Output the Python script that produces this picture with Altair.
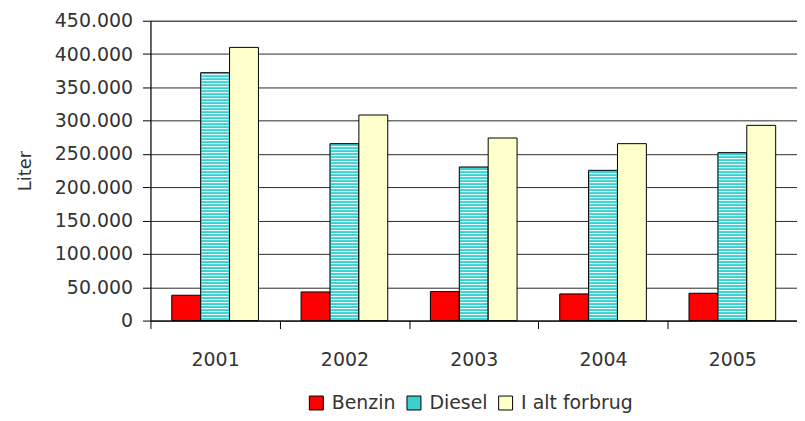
import altair as alt
import pandas as pd

years = ["2001", "2002", "2003", "2004", "2005"]
series = ["Benzin", "Diesel", "I alt forbrug"]
benzin = [38000, 43000, 43500, 40000, 41000]
diesel = [372000, 265500, 230500, 225500, 252000]
total = [410000, 308500, 274000, 265500, 293000]
colors = ["#FF0000", "#3CCFCF", "#FFFFCC"]
y_ticks = [0, 50000, 100000, 150000, 200000, 250000, 300000, 350000, 400000, 450000]

rows = []
for i, yr in enumerate(years):
    rows.append({"year": yr, "series": "Benzin", "value": benzin[i]})
    rows.append({"year": yr, "series": "Diesel", "value": diesel[i]})
    rows.append({"year": yr, "series": "I alt forbrug", "value": total[i]})
df = pd.DataFrame(rows)

# white hatch lines for the Diesel bars (texture only)
step = 4500
stripes = []
for i, yr in enumerate(years):
    v = step
    while v < diesel[i] - 1500:
        stripes.append({"year": yr, "series": "Diesel", "value": v})
        v += step
sdf = pd.DataFrame(stripes)

FONT = "DejaVu Sans"
TXT = "#333333"

x_enc = alt.X(
    "year:N",
    scale=alt.Scale(domain=years, paddingInner=0, paddingOuter=0),
    axis=alt.Axis(
        title=None, labelAngle=0, tickBand="extent", tickSize=8, tickColor="black",
        domainColor="black", labelFont=FONT, labelFontSize=19, labelColor=TXT,
        labelPadding=22, grid=False,
    ),
)
xo_enc = alt.XOffset("series:N", scale=alt.Scale(domain=series, paddingInner=0, paddingOuter=0.738))
y_enc = alt.Y(
    "value:Q",
    scale=alt.Scale(domain=[0, 450000], nice=False),
    axis=alt.Axis(
        title="Liter", values=y_ticks, labelOverlap=False, labelFlush=False,
        labelExpr="replace(format(datum.value, ','), ',', '.')",
        grid=True, gridColor="#2a2a2a", gridWidth=1,
        tickSize=8, tickColor="black", domainColor="black",
        labelFont=FONT, labelFontSize=19, labelColor=TXT, labelPadding=10,
        titleFont=FONT, titleFontSize=18, titleFontWeight="normal", titleColor=TXT,
        titlePadding=20,
    ),
)

bars = alt.Chart(df).mark_bar(stroke="black", strokeWidth=1).encode(
    x=x_enc,
    xOffset=xo_enc,
    y=y_enc,
    color=alt.Color(
        "series:N",
        scale=alt.Scale(domain=series, range=colors),
        legend=alt.Legend(
            title=None, orient="none", legendX=157, legendY=374, direction="horizontal",
            symbolType="square", symbolSize=196, symbolStrokeColor="black",
            symbolStrokeWidth=1, symbolOpacity=1, labelFont=FONT, labelFontSize=19,
            labelColor=TXT, columnPadding=8, labelOffset=6,
        ),
    ),
)

hatch = alt.Chart(sdf).mark_tick(orient="horizontal", color="white", size=27, thickness=1, opacity=1).encode(
    x=x_enc,
    xOffset=xo_enc,
    y=y_enc,
)

chart = alt.layer(bars, hatch).properties(
    width=649, height=301,
    autosize=alt.AutoSizeParams(type="none"),
    padding={"left": 143, "top": 12, "right": 0, "bottom": 92},
).configure_view(stroke="#888888", strokeWidth=1)

chart.save("out.html", embed_options={"renderer": "svg", "actions": False})
